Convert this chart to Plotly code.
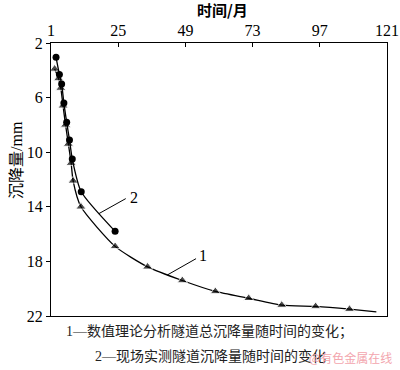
import plotly.graph_objects as go

# Series 1: numerical theory analysis (triangles)
t1 = [2.3, 3.7, 4.5, 5.3, 6.2, 7.2, 8.2, 8.9, 11.7, 23.9, 35.5, 47.9, 59.7, 71.6, 83.4, 95.5, 107.6, 117.2]
s1 = [3.9, 4.6, 5.3, 6.6, 8.0, 9.4, 10.8, 12.1, 14.0, 16.9, 18.4, 19.4, 20.2, 20.7, 21.2, 21.3, 21.5, 21.7]
# Series 2: field measurement (circles)
t2 = [2.8, 4.0, 4.8, 5.6, 6.6, 7.6, 8.6, 11.8, 23.9]
s2 = [3.05, 4.3, 5.0, 6.4, 7.8, 9.1, 10.5, 12.9, 15.8]

x_ticks = [1, 25, 49, 73, 97, 121]
y_ticks = [2, 6, 10, 14, 18, 22]

serif = "Liberation Serif, Times New Roman, serif"
cjk = "Noto Sans CJK SC"

W, H = 400, 370
L, R, T, B = 51, 13, 43, 54
pw, ph = W - L - R, H - T - B

fig = go.Figure()
fig.add_trace(go.Scatter(
    x=t1, y=s1, mode="lines+markers",
    line=dict(color="black", width=1.3, shape="spline", smoothing=0.6),
    marker=dict(symbol="triangle-up", color="black",
                size=[9] * (len(t1) - 1) + [0]),
    showlegend=False))
fig.add_trace(go.Scatter(
    x=t2, y=s2, mode="lines+markers",
    line=dict(color="black", width=1.3, shape="spline", smoothing=0.6),
    marker=dict(symbol="circle", color="black", size=7),
    showlegend=False))

fig.update_layout(
    width=W, height=H,
    margin=dict(l=L, r=R, t=T, b=B),
    paper_bgcolor="white", plot_bgcolor="white",
    font=dict(family=serif, size=16, color="black"),
    xaxis=dict(side="top", range=[1, 121], tickvals=x_ticks, automargin=False,
               showline=True, linecolor="black", linewidth=1, mirror=True,
               ticks="inside", ticklen=4, tickcolor="black",
               showgrid=False, zeroline=False,
               tickfont=dict(family=serif, size=16)),
    yaxis=dict(range=[22, 2], tickvals=y_ticks, automargin=False,
               showline=True, linecolor="black", linewidth=1, mirror=True,
               ticks="outside", ticklen=4, tickcolor="black",
               showgrid=False, zeroline=False,
               tickfont=dict(family=serif, size=16)),
)


def px(x):
    return (x - L) / pw


def py(y):
    return (H - B - y) / ph


fig.add_annotation(text="<b>时间/月</b>", x=px(222), y=py(10), xref="paper", yref="paper",
                   showarrow=False, font=dict(family=cjk, size=15, color="black"),
                   xanchor="center", yanchor="middle")
fig.add_annotation(text="沉降量/mm", x=px(16), y=py(160), xref="paper", yref="paper",
                   showarrow=False, textangle=-90,
                   font=dict(family="Liberation Serif, " + cjk, size=16, color="black"),
                   xanchor="center", yanchor="middle")
fig.add_annotation(text="1—数值理论分析隧道总沉降量随时间的变化；", x=px(209), y=py(332),
                   xref="paper", yref="paper", showarrow=False,
                   font=dict(family="Liberation Serif, " + cjk, size=14, color="#222"),
                   xanchor="center", yanchor="middle")
fig.add_annotation(text="2—现场实测隧道沉降量随时间的变化", x=px(210), y=py(356),
                   xref="paper", yref="paper", showarrow=False,
                   font=dict(family="Liberation Serif, " + cjk, size=14, color="#222"),
                   xanchor="center", yanchor="middle")
fig.add_annotation(text="@有色金属在线", x=px(350), y=py(357), xref="paper", yref="paper",
                   showarrow=False, font=dict(family=cjk, size=12, color="#f3a6ae"),
                   xanchor="center", yanchor="middle")

# curve labels with leader lines (data coordinates)
fig.add_shape(type="line", x0=18.1, y0=14.5, x1=27.7, y1=13.4, xref="x", yref="y",
              line=dict(color="black", width=1))
fig.add_annotation(text="2", x=28.6, y=13.3, xref="x", yref="y", showarrow=False,
                   font=dict(family=serif, size=16), xanchor="left")
fig.add_shape(type="line", x0=42.5, y0=19.0, x1=52.8, y1=17.8, xref="x", yref="y",
              line=dict(color="black", width=1))
fig.add_annotation(text="1", x=53.0, y=17.6, xref="x", yref="y", showarrow=False,
                   font=dict(family=serif, size=16), xanchor="left")

fig.write_html("out.html",
               config={"displayModeBar": False, "staticPlot": True},
               post_script="document.body.style.margin='0';document.body.style.overflow='hidden';")
